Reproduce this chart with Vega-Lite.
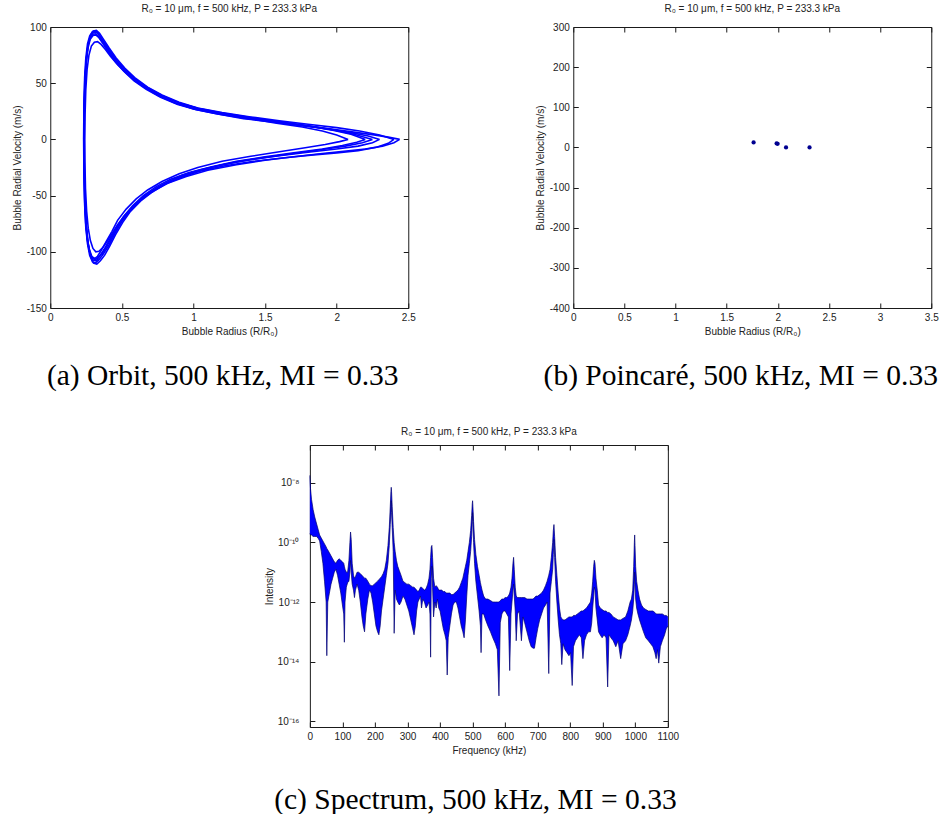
{
  "$schema": "https://vega.github.io/schema/vega-lite/v6.json",
  "background": "white",
  "padding": {"left": 11, "top": 3, "right": 0, "bottom": 0},
  "config": {
    "font": "Liberation Sans",
    "view": {"stroke": "#1a1a1a", "strokeWidth": 1},
    "axis": {"grid": false, "domain": false, "tickSize": -5, "tickColor": "#1a1a1a", "labelFontSize": 10, "labelColor": "#222222", "titleFontSize": 10, "titleFontWeight": "normal", "titleColor": "#222222", "labelPadding": 9, "titlePadding": 4, "labelFont": "Liberation Sans", "titleFont": "Liberation Sans", "labelFlush": false, "labelOverlap": false},
    "title": {"fontSize": 10, "fontWeight": "normal", "font": "Liberation Sans", "color": "#222222"}
  },
  "datasets": {
    "orbit": [
      {"c":1,"r":2.44,"v":0},{"c":1,"r":2.40,"v":-3},{"c":1,"r":2.32,"v":-6},{"c":1,"r":2.20,"v":-8.5},{"c":1,"r":2.05,"v":-10.5},{"c":1,"r":1.90,"v":-12.5},{"c":1,"r":1.70,"v":-15.5},{"c":1,"r":1.50,"v":-18.5},{"c":1,"r":1.30,"v":-22.5},{"c":1,"r":1.10,"v":-27.5},{"c":1,"r":0.95,"v":-33},{"c":1,"r":0.82,"v":-39},{"c":1,"r":0.72,"v":-46},{"c":1,"r":0.63,"v":-54},{"c":1,"r":0.56,"v":-63},{"c":1,"r":0.50,"v":-73},{"c":1,"r":0.45,"v":-84},{"c":1,"r":0.41,"v":-94},{"c":1,"r":0.37,"v":-102},{"c":1,"r":0.34,"v":-107},{"c":1,"r":0.315,"v":-110},{"c":1,"r":0.295,"v":-109},{"c":1,"r":0.275,"v":-103},{"c":1,"r":0.26,"v":-93},{"c":1,"r":0.248,"v":-78},{"c":1,"r":0.24,"v":-58},{"c":1,"r":0.235,"v":-30},{"c":1,"r":0.233,"v":0},{"c":1,"r":0.235,"v":30},{"c":1,"r":0.24,"v":55},{"c":1,"r":0.248,"v":72},{"c":1,"r":0.26,"v":85},{"c":1,"r":0.275,"v":92},{"c":1,"r":0.295,"v":96},{"c":1,"r":0.315,"v":96.5},{"c":1,"r":0.335,"v":94},{"c":1,"r":0.36,"v":89},{"c":1,"r":0.40,"v":81},{"c":1,"r":0.45,"v":72},{"c":1,"r":0.50,"v":64},{"c":1,"r":0.57,"v":55},{"c":1,"r":0.65,"v":47},{"c":1,"r":0.75,"v":39.5},{"c":1,"r":0.87,"v":32.5},{"c":1,"r":1.00,"v":27},{"c":1,"r":1.15,"v":23},{"c":1,"r":1.35,"v":18.5},{"c":1,"r":1.55,"v":15.5},{"c":1,"r":1.75,"v":12.5},{"c":1,"r":1.95,"v":9.5},{"c":1,"r":2.12,"v":6.5},{"c":1,"r":2.26,"v":4},{"c":1,"r":2.36,"v":2},{"c":1,"r":2.44,"v":0},
      {"c":2,"r":2.30,"v":0},{"c":2,"r":2.25,"v":-3},{"c":2,"r":2.15,"v":-6},{"c":2,"r":2.0,"v":-8.5},{"c":2,"r":1.8,"v":-11.5},{"c":2,"r":1.6,"v":-14.5},{"c":2,"r":1.4,"v":-18},{"c":2,"r":1.2,"v":-22.5},{"c":2,"r":1.05,"v":-27},{"c":2,"r":0.92,"v":-32},{"c":2,"r":0.80,"v":-39.5},{"c":2,"r":0.70,"v":-47},{"c":2,"r":0.62,"v":-55},{"c":2,"r":0.55,"v":-64},{"c":2,"r":0.49,"v":-74},{"c":2,"r":0.44,"v":-85},{"c":2,"r":0.40,"v":-94},{"c":2,"r":0.365,"v":-101},{"c":2,"r":0.335,"v":-105},{"c":2,"r":0.31,"v":-107},{"c":2,"r":0.29,"v":-105},{"c":2,"r":0.272,"v":-99},{"c":2,"r":0.258,"v":-89},{"c":2,"r":0.247,"v":-74},{"c":2,"r":0.24,"v":-54},{"c":2,"r":0.236,"v":-28},{"c":2,"r":0.234,"v":0},{"c":2,"r":0.236,"v":28},{"c":2,"r":0.241,"v":52},{"c":2,"r":0.25,"v":70},{"c":2,"r":0.262,"v":83},{"c":2,"r":0.278,"v":90},{"c":2,"r":0.297,"v":93.5},{"c":2,"r":0.317,"v":94},{"c":2,"r":0.338,"v":91.5},{"c":2,"r":0.365,"v":86.5},{"c":2,"r":0.40,"v":79.5},{"c":2,"r":0.45,"v":70.5},{"c":2,"r":0.51,"v":62},{"c":2,"r":0.58,"v":53.5},{"c":2,"r":0.66,"v":46},{"c":2,"r":0.76,"v":38.5},{"c":2,"r":0.88,"v":32},{"c":2,"r":1.0,"v":27.5},{"c":2,"r":1.15,"v":23.5},{"c":2,"r":1.35,"v":19.5},{"c":2,"r":1.55,"v":16},{"c":2,"r":1.75,"v":12.5},{"c":2,"r":1.95,"v":9},{"c":2,"r":2.1,"v":6},{"c":2,"r":2.22,"v":3},{"c":2,"r":2.30,"v":0},
      {"c":3,"r":2.08,"v":0},{"c":3,"r":2.02,"v":-2},{"c":3,"r":1.92,"v":-4.5},{"c":3,"r":1.78,"v":-7.5},{"c":3,"r":1.6,"v":-11},{"c":3,"r":1.4,"v":-15},{"c":3,"r":1.2,"v":-19.5},{"c":3,"r":1.03,"v":-25},{"c":3,"r":0.9,"v":-30.5},{"c":3,"r":0.78,"v":-37.5},{"c":3,"r":0.68,"v":-45},{"c":3,"r":0.6,"v":-53},{"c":3,"r":0.53,"v":-62},{"c":3,"r":0.47,"v":-72},{"c":3,"r":0.43,"v":-82},{"c":3,"r":0.39,"v":-91},{"c":3,"r":0.355,"v":-99},{"c":3,"r":0.33,"v":-104},{"c":3,"r":0.31,"v":-106},{"c":3,"r":0.29,"v":-104},{"c":3,"r":0.273,"v":-98},{"c":3,"r":0.259,"v":-88},{"c":3,"r":0.249,"v":-73},{"c":3,"r":0.241,"v":-53},{"c":3,"r":0.237,"v":-27},{"c":3,"r":0.235,"v":0},{"c":3,"r":0.237,"v":27},{"c":3,"r":0.242,"v":50},{"c":3,"r":0.251,"v":68},{"c":3,"r":0.263,"v":81},{"c":3,"r":0.279,"v":89},{"c":3,"r":0.298,"v":92.5},{"c":3,"r":0.318,"v":93},{"c":3,"r":0.34,"v":90.5},{"c":3,"r":0.367,"v":85.5},{"c":3,"r":0.405,"v":78},{"c":3,"r":0.455,"v":69},{"c":3,"r":0.515,"v":60.5},{"c":3,"r":0.585,"v":52},{"c":3,"r":0.67,"v":44.5},{"c":3,"r":0.77,"v":37.5},{"c":3,"r":0.89,"v":31},{"c":3,"r":1.02,"v":26.5},{"c":3,"r":1.18,"v":22.5},{"c":3,"r":1.38,"v":18.5},{"c":3,"r":1.58,"v":14.5},{"c":3,"r":1.76,"v":11},{"c":3,"r":1.9,"v":7.5},{"c":3,"r":2.0,"v":4},{"c":3,"r":2.08,"v":0},
      {"c":4,"r":2.20,"v":0},{"c":4,"r":2.14,"v":-2.5},{"c":4,"r":2.04,"v":-5.5},{"c":4,"r":1.9,"v":-8.5},{"c":4,"r":1.7,"v":-12},{"c":4,"r":1.5,"v":-15.5},{"c":4,"r":1.3,"v":-19.5},{"c":4,"r":1.12,"v":-24.5},{"c":4,"r":0.97,"v":-29.5},{"c":4,"r":0.84,"v":-35.5},{"c":4,"r":0.74,"v":-42},{"c":4,"r":0.65,"v":-50},{"c":4,"r":0.575,"v":-59},{"c":4,"r":0.51,"v":-69},{"c":4,"r":0.46,"v":-79},{"c":4,"r":0.415,"v":-89},{"c":4,"r":0.375,"v":-98},{"c":4,"r":0.345,"v":-104},{"c":4,"r":0.32,"v":-108},{"c":4,"r":0.298,"v":-107.5},{"c":4,"r":0.279,"v":-102},{"c":4,"r":0.263,"v":-92},{"c":4,"r":0.251,"v":-77},{"c":4,"r":0.243,"v":-57},{"c":4,"r":0.238,"v":-30},{"c":4,"r":0.236,"v":0},{"c":4,"r":0.238,"v":29},{"c":4,"r":0.243,"v":53},{"c":4,"r":0.252,"v":71},{"c":4,"r":0.264,"v":84},{"c":4,"r":0.28,"v":91.5},{"c":4,"r":0.3,"v":95},{"c":4,"r":0.32,"v":95.5},{"c":4,"r":0.342,"v":93},{"c":4,"r":0.37,"v":87.5},{"c":4,"r":0.41,"v":80},{"c":4,"r":0.46,"v":71},{"c":4,"r":0.52,"v":62.5},{"c":4,"r":0.59,"v":54},{"c":4,"r":0.68,"v":46},{"c":4,"r":0.78,"v":39},{"c":4,"r":0.9,"v":32.5},{"c":4,"r":1.03,"v":27.5},{"c":4,"r":1.2,"v":23},{"c":4,"r":1.4,"v":19},{"c":4,"r":1.6,"v":15.5},{"c":4,"r":1.8,"v":12},{"c":4,"r":1.98,"v":8},{"c":4,"r":2.1,"v":4.5},{"c":4,"r":2.2,"v":0},
      {"c":5,"r":2.40,"v":0},{"c":5,"r":2.36,"v":-3.5},{"c":5,"r":2.28,"v":-7},{"c":5,"r":2.15,"v":-10},{"c":5,"r":2.0,"v":-12},{"c":5,"r":1.82,"v":-14},{"c":5,"r":1.62,"v":-16.5},{"c":5,"r":1.42,"v":-19.5},{"c":5,"r":1.22,"v":-23.5},{"c":5,"r":1.05,"v":-28},{"c":5,"r":0.92,"v":-33.5},{"c":5,"r":0.80,"v":-40},{"c":5,"r":0.71,"v":-47},{"c":5,"r":0.63,"v":-55},{"c":5,"r":0.56,"v":-64},{"c":5,"r":0.505,"v":-74},{"c":5,"r":0.455,"v":-85},{"c":5,"r":0.415,"v":-95},{"c":5,"r":0.38,"v":-103},{"c":5,"r":0.35,"v":-108},{"c":5,"r":0.325,"v":-111},{"c":5,"r":0.302,"v":-110},{"c":5,"r":0.282,"v":-104.5},{"c":5,"r":0.266,"v":-94},{"c":5,"r":0.253,"v":-79},{"c":5,"r":0.244,"v":-58},{"c":5,"r":0.239,"v":-30},{"c":5,"r":0.237,"v":0},{"c":5,"r":0.239,"v":30},{"c":5,"r":0.244,"v":54},{"c":5,"r":0.253,"v":72},{"c":5,"r":0.265,"v":85},{"c":5,"r":0.282,"v":93},{"c":5,"r":0.302,"v":96.5},{"c":5,"r":0.322,"v":97},{"c":5,"r":0.344,"v":94.5},{"c":5,"r":0.372,"v":89},{"c":5,"r":0.41,"v":81.5},{"c":5,"r":0.46,"v":72.5},{"c":5,"r":0.52,"v":63.5},{"c":5,"r":0.59,"v":55},{"c":5,"r":0.68,"v":46.5},{"c":5,"r":0.78,"v":39.5},{"c":5,"r":0.9,"v":33},{"c":5,"r":1.03,"v":28},{"c":5,"r":1.2,"v":24},{"c":5,"r":1.4,"v":20},{"c":5,"r":1.6,"v":16.5},{"c":5,"r":1.8,"v":13.5},{"c":5,"r":2.0,"v":10.5},{"c":5,"r":2.16,"v":7.5},{"c":5,"r":2.3,"v":4},{"c":5,"r":2.40,"v":0},
      {"c":6,"r":2.25,"v":0},{"c":6,"r":2.18,"v":-3},{"c":6,"r":2.06,"v":-6},{"c":6,"r":1.9,"v":-9},{"c":6,"r":1.7,"v":-12.5},{"c":6,"r":1.5,"v":-16},{"c":6,"r":1.3,"v":-20},{"c":6,"r":1.12,"v":-25},{"c":6,"r":0.98,"v":-30},{"c":6,"r":0.85,"v":-36},{"c":6,"r":0.75,"v":-42.5},{"c":6,"r":0.66,"v":-50},{"c":6,"r":0.585,"v":-58.5},{"c":6,"r":0.52,"v":-67.5},{"c":6,"r":0.47,"v":-76},{"c":6,"r":0.43,"v":-84},{"c":6,"r":0.395,"v":-91},{"c":6,"r":0.365,"v":-96.5},{"c":6,"r":0.34,"v":-99.5},{"c":6,"r":0.318,"v":-100},{"c":6,"r":0.298,"v":-97},{"c":6,"r":0.28,"v":-90},{"c":6,"r":0.265,"v":-79},{"c":6,"r":0.254,"v":-64},{"c":6,"r":0.246,"v":-44},{"c":6,"r":0.242,"v":-20},{"c":6,"r":0.241,"v":0},{"c":6,"r":0.243,"v":22},{"c":6,"r":0.248,"v":44},{"c":6,"r":0.257,"v":62},{"c":6,"r":0.27,"v":75},{"c":6,"r":0.287,"v":83},{"c":6,"r":0.308,"v":86.5},{"c":6,"r":0.33,"v":87},{"c":6,"r":0.355,"v":84.5},{"c":6,"r":0.385,"v":80},{"c":6,"r":0.42,"v":74},{"c":6,"r":0.47,"v":66.5},{"c":6,"r":0.53,"v":59},{"c":6,"r":0.6,"v":51.5},{"c":6,"r":0.69,"v":44.5},{"c":6,"r":0.79,"v":38},{"c":6,"r":0.91,"v":32},{"c":6,"r":1.04,"v":27.5},{"c":6,"r":1.2,"v":23.5},{"c":6,"r":1.4,"v":19.5},{"c":6,"r":1.6,"v":15.5},{"c":6,"r":1.8,"v":12},{"c":6,"r":1.98,"v":8.5},{"c":6,"r":2.12,"v":4.5},{"c":6,"r":2.25,"v":0}
    ],
    "poinc": [
      {"r":1.763,"v":12.5},{"r":1.988,"v":10},{"r":1.998,"v":9},{"r":2.08,"v":0},{"r":2.31,"v":0}
    ],
    "spec": [
      {"f":0,"hi":1.78e-8,"lo":2.0e-10},{"f":2,"hi":6.31e-9,"lo":1.78e-10},{"f":5,"hi":2.82e-9,"lo":1.78e-10},{"f":10,"hi":1.26e-9,"lo":1.58e-10},{"f":15,"hi":7.08e-10,"lo":1.58e-10},{"f":20,"hi":4.47e-10,"lo":1.58e-10},{"f":25,"hi":2.82e-10,"lo":1.41e-10},{"f":30,"hi":1.78e-10,"lo":1.12e-10},{"f":35,"hi":1.41e-10,"lo":5.01e-11},{"f":40,"hi":1.12e-10,"lo":2.0e-11},{"f":45,"hi":8.91e-11,"lo":5.01e-12},{"f":50,"hi":7.08e-11,"lo":1e-12},{"f":52,"hi":6.31e-11,"lo":1.58e-14},{"f":55,"hi":5.62e-11,"lo":1e-12},{"f":60,"hi":4.47e-11,"lo":2.0e-12},{"f":65,"hi":3.55e-11,"lo":3.98e-12},{"f":70,"hi":2.82e-11,"lo":6.31e-12},{"f":75,"hi":2.24e-11,"lo":1e-11},{"f":80,"hi":2.0e-11,"lo":1.26e-11},{"f":85,"hi":2.51e-11,"lo":7.94e-12},{"f":90,"hi":2.82e-11,"lo":3.98e-12},{"f":95,"hi":2.51e-11,"lo":2.0e-12},{"f":100,"hi":2.24e-11,"lo":7.94e-13},{"f":104,"hi":2.0e-11,"lo":3.98e-13},{"f":106,"hi":1.58e-11,"lo":4.47e-14},{"f":108,"hi":1.26e-11,"lo":1e-12},{"f":112,"hi":1e-11,"lo":3.16e-12},{"f":116,"hi":1e-11,"lo":4.47e-12},{"f":120,"hi":2.51e-11,"lo":5.01e-12},{"f":123,"hi":1e-10,"lo":1e-11},{"f":125,"hi":2.24e-10,"lo":2.51e-11},{"f":127,"hi":1.26e-10,"lo":1e-11},{"f":130,"hi":2.0e-11,"lo":3.98e-12},{"f":134,"hi":7.94e-12,"lo":2.51e-12},{"f":137,"hi":6.31e-12,"lo":1.41e-12},{"f":140,"hi":7.08e-12,"lo":2.51e-12},{"f":145,"hi":1e-11,"lo":3.98e-12},{"f":150,"hi":1e-11,"lo":2.51e-12},{"f":155,"hi":8.91e-12,"lo":1e-12},{"f":160,"hi":7.94e-12,"lo":3.16e-13},{"f":164,"hi":7.08e-12,"lo":1.58e-13},{"f":168,"hi":6.31e-12,"lo":1e-13},{"f":172,"hi":6.31e-12,"lo":3.98e-13},{"f":178,"hi":5.01e-12,"lo":1.26e-12},{"f":183,"hi":3.98e-12,"lo":2.51e-12},{"f":188,"hi":3.55e-12,"lo":2.0e-12},{"f":193,"hi":3.55e-12,"lo":1e-12},{"f":198,"hi":3.98e-12,"lo":3.98e-13},{"f":203,"hi":4.47e-12,"lo":1.58e-13},{"f":208,"hi":5.01e-12,"lo":1e-13},{"f":212,"hi":5.62e-12,"lo":7.94e-14},{"f":216,"hi":6.31e-12,"lo":1.58e-13},{"f":220,"hi":7.08e-12,"lo":5.01e-13},{"f":225,"hi":8.91e-12,"lo":1.26e-12},{"f":230,"hi":1.26e-11,"lo":3.16e-12},{"f":235,"hi":2.51e-11,"lo":7.94e-12},{"f":240,"hi":7.94e-11,"lo":2.0e-11},{"f":244,"hi":3.16e-10,"lo":7.94e-11},{"f":247,"hi":1.58e-9,"lo":3.98e-10},{"f":249,"hi":5.01e-9,"lo":1e-9},{"f":250,"hi":7.08e-9,"lo":2.51e-9},{"f":251,"hi":5.01e-9,"lo":1e-9},{"f":253,"hi":1.58e-9,"lo":3.16e-10},{"f":256,"hi":3.16e-10,"lo":5.01e-11},{"f":259,"hi":1e-10,"lo":8.91e-14},{"f":262,"hi":5.01e-11,"lo":2.51e-12},{"f":266,"hi":2.51e-11,"lo":1.26e-12},{"f":270,"hi":1.58e-11,"lo":1e-12},{"f":275,"hi":1.12e-11,"lo":7.94e-13},{"f":280,"hi":7.94e-12,"lo":1e-12},{"f":286,"hi":5.01e-12,"lo":1.58e-12},{"f":292,"hi":4.47e-12,"lo":1.26e-12},{"f":298,"hi":3.98e-12,"lo":7.94e-13},{"f":304,"hi":3.98e-12,"lo":5.01e-13},{"f":310,"hi":3.55e-12,"lo":2.51e-13},{"f":316,"hi":3.16e-12,"lo":1.26e-13},{"f":320,"hi":3.16e-12,"lo":7.94e-14},{"f":324,"hi":2.82e-12,"lo":1.58e-13},{"f":328,"hi":2.51e-12,"lo":5.01e-13},{"f":332,"hi":2.24e-12,"lo":1e-12},{"f":336,"hi":2.51e-12,"lo":1.26e-12},{"f":340,"hi":3.16e-12,"lo":1.58e-12},{"f":343,"hi":3.16e-12,"lo":6.31e-13},{"f":347,"hi":2.82e-12,"lo":1.26e-12},{"f":352,"hi":2.51e-12,"lo":1e-12},{"f":357,"hi":2.82e-12,"lo":6.31e-13},{"f":362,"hi":3.98e-12,"lo":7.94e-13},{"f":366,"hi":6.31e-12,"lo":1e-12},{"f":369,"hi":1.26e-11,"lo":3.98e-13},{"f":371,"hi":3.16e-11,"lo":1.41e-14},{"f":373,"hi":7.08e-11,"lo":6.31e-12},{"f":375,"hi":7.94e-11,"lo":1.58e-11},{"f":377,"hi":3.16e-11,"lo":3.16e-12},{"f":380,"hi":6.31e-12,"lo":3.16e-13},{"f":384,"hi":3.16e-12,"lo":1e-12},{"f":388,"hi":3.55e-12,"lo":6.31e-13},{"f":392,"hi":3.16e-12,"lo":1.26e-12},{"f":396,"hi":2.51e-12,"lo":6.31e-13},{"f":400,"hi":2.51e-12,"lo":5.01e-13},{"f":405,"hi":2.51e-12,"lo":2.51e-13},{"f":410,"hi":2.24e-12,"lo":1.26e-13},{"f":415,"hi":2.24e-12,"lo":7.94e-14},{"f":419,"hi":2.0e-12,"lo":5.01e-14},{"f":422,"hi":2.0e-12,"lo":3.55e-15},{"f":425,"hi":2.0e-12,"lo":6.31e-14},{"f":430,"hi":2.0e-12,"lo":1.58e-13},{"f":435,"hi":1.78e-12,"lo":3.98e-13},{"f":440,"hi":1.78e-12,"lo":7.94e-13},{"f":445,"hi":2.0e-12,"lo":1e-12},{"f":450,"hi":2.24e-12,"lo":1e-12},{"f":455,"hi":2.51e-12,"lo":6.31e-13},{"f":460,"hi":3.16e-12,"lo":3.16e-13},{"f":465,"hi":4.47e-12,"lo":1.58e-13},{"f":470,"hi":6.31e-12,"lo":1e-13},{"f":474,"hi":1e-11,"lo":6.31e-14},{"f":478,"hi":1.58e-11,"lo":2.51e-13},{"f":482,"hi":2.51e-11,"lo":1.58e-12},{"f":486,"hi":5.01e-11,"lo":7.94e-12},{"f":490,"hi":1e-10,"lo":2.0e-11},{"f":494,"hi":2.51e-10,"lo":5.01e-11},{"f":497,"hi":7.94e-10,"lo":1.58e-10},{"f":499,"hi":2.0e-9,"lo":5.01e-10},{"f":500,"hi":2.51e-9,"lo":1e-9},{"f":501,"hi":1.58e-9,"lo":3.98e-10},{"f":503,"hi":5.01e-10,"lo":1e-10},{"f":506,"hi":1.26e-10,"lo":2.0e-11},{"f":510,"hi":3.98e-11,"lo":5.01e-12},{"f":515,"hi":1.58e-11,"lo":1.58e-12},{"f":520,"hi":7.94e-12,"lo":5.01e-13},{"f":524,"hi":4.47e-12,"lo":1.58e-13},{"f":526,"hi":3.55e-12,"lo":2.0e-14},{"f":529,"hi":2.51e-12,"lo":3.98e-13},{"f":534,"hi":1.58e-12,"lo":3.98e-13},{"f":540,"hi":1.26e-12,"lo":2.51e-13},{"f":547,"hi":1.26e-12,"lo":1.58e-13},{"f":555,"hi":1.12e-12,"lo":1e-13},{"f":562,"hi":1e-12,"lo":6.31e-14},{"f":570,"hi":1e-12,"lo":3.98e-14},{"f":576,"hi":1e-12,"lo":2.51e-14},{"f":581,"hi":1e-12,"lo":7.08e-16},{"f":585,"hi":1.12e-12,"lo":2.0e-13},{"f":590,"hi":1.26e-12,"lo":3.98e-13},{"f":595,"hi":1.26e-12,"lo":5.01e-13},{"f":600,"hi":1.41e-12,"lo":5.01e-13},{"f":605,"hi":1.41e-12,"lo":3.98e-13},{"f":610,"hi":1.58e-12,"lo":3.16e-13},{"f":614,"hi":2.0e-12,"lo":5.01e-15},{"f":618,"hi":3.16e-12,"lo":3.98e-13},{"f":621,"hi":6.31e-12,"lo":1e-12},{"f":624,"hi":2.0e-11,"lo":2.51e-12},{"f":626,"hi":3.16e-11,"lo":3.98e-12},{"f":628,"hi":1.26e-11,"lo":1.58e-12},{"f":631,"hi":3.16e-12,"lo":5.01e-13},{"f":634,"hi":1.58e-12,"lo":5.01e-14},{"f":638,"hi":1.41e-12,"lo":3.98e-13},{"f":643,"hi":1.41e-12,"lo":5.01e-13},{"f":650,"hi":1.41e-12,"lo":5.01e-14},{"f":655,"hi":1.41e-12,"lo":3.16e-13},{"f":660,"hi":1.41e-12,"lo":2.0e-13},{"f":667,"hi":1.26e-12,"lo":1e-13},{"f":674,"hi":1.26e-12,"lo":5.01e-14},{"f":680,"hi":1.26e-12,"lo":3.16e-14},{"f":686,"hi":1.26e-12,"lo":2.82e-14},{"f":690,"hi":1.41e-12,"lo":2.82e-14},{"f":695,"hi":1.58e-12,"lo":6.31e-14},{"f":700,"hi":1.58e-12,"lo":1.26e-13},{"f":706,"hi":1.78e-12,"lo":2.51e-13},{"f":712,"hi":2.0e-12,"lo":3.98e-13},{"f":718,"hi":2.51e-12,"lo":6.31e-13},{"f":724,"hi":3.55e-12,"lo":7.94e-13},{"f":729,"hi":5.01e-12,"lo":1e-12},{"f":734,"hi":7.94e-12,"lo":3.98e-15},{"f":738,"hi":1.26e-11,"lo":2.0e-12},{"f":742,"hi":3.16e-11,"lo":5.01e-12},{"f":746,"hi":1e-10,"lo":1.26e-11},{"f":748,"hi":2.51e-10,"lo":3.98e-11},{"f":750,"hi":3.98e-10,"lo":1.26e-10},{"f":752,"hi":1.58e-10,"lo":3.16e-11},{"f":755,"hi":3.16e-11,"lo":5.01e-12},{"f":759,"hi":7.94e-12,"lo":1e-12},{"f":763,"hi":2.0e-12,"lo":2.51e-13},{"f":767,"hi":6.31e-13,"lo":7.94e-14},{"f":771,"hi":3.16e-13,"lo":3.98e-14},{"f":774,"hi":2.82e-13,"lo":7.94e-15},{"f":778,"hi":2.51e-13,"lo":3.98e-14},{"f":784,"hi":2.51e-13,"lo":2.51e-14},{"f":790,"hi":2.82e-13,"lo":2.0e-14},{"f":796,"hi":3.16e-13,"lo":1.58e-14},{"f":801,"hi":3.16e-13,"lo":2.0e-14},{"f":806,"hi":3.16e-13,"lo":1.58e-15},{"f":810,"hi":3.55e-13,"lo":3.16e-14},{"f":816,"hi":3.55e-13,"lo":5.01e-14},{"f":822,"hi":3.98e-13,"lo":6.31e-14},{"f":828,"hi":4.47e-13,"lo":7.94e-14},{"f":834,"hi":5.01e-13,"lo":6.31e-14},{"f":839,"hi":5.01e-13,"lo":1.26e-14},{"f":844,"hi":5.62e-13,"lo":5.01e-14},{"f":850,"hi":6.31e-13,"lo":7.94e-14},{"f":856,"hi":7.94e-13,"lo":1e-13},{"f":862,"hi":1e-12,"lo":1e-13},{"f":866,"hi":2.0e-12,"lo":2.0e-13},{"f":869,"hi":5.01e-12,"lo":6.31e-13},{"f":872,"hi":1.58e-11,"lo":1.58e-12},{"f":874,"hi":2.51e-11,"lo":3.16e-12},{"f":876,"hi":2.0e-11,"lo":2.51e-12},{"f":879,"hi":6.31e-12,"lo":6.31e-13},{"f":883,"hi":2.51e-12,"lo":2.51e-13},{"f":887,"hi":7.94e-13,"lo":1e-13},{"f":892,"hi":6.31e-13,"lo":7.94e-14},{"f":898,"hi":5.62e-13,"lo":6.31e-14},{"f":904,"hi":5.01e-13,"lo":7.94e-14},{"f":910,"hi":5.01e-13,"lo":6.31e-14},{"f":915,"hi":4.47e-13,"lo":1.41e-15},{"f":919,"hi":4.47e-13,"lo":7.94e-14},{"f":925,"hi":3.98e-13,"lo":6.31e-14},{"f":932,"hi":3.16e-13,"lo":5.01e-14},{"f":940,"hi":2.82e-13,"lo":3.16e-14},{"f":947,"hi":2.51e-13,"lo":5.01e-14},{"f":955,"hi":2.51e-13,"lo":1.26e-14},{"f":962,"hi":2.82e-13,"lo":3.98e-14},{"f":970,"hi":3.16e-13,"lo":5.01e-14},{"f":977,"hi":5.01e-13,"lo":7.94e-14},{"f":984,"hi":1e-12,"lo":1.58e-13},{"f":988,"hi":1.26e-12,"lo":2.51e-13},{"f":992,"hi":2.51e-12,"lo":5.01e-13},{"f":995,"hi":1.58e-11,"lo":1.26e-12},{"f":997,"hi":1e-10,"lo":3.98e-12},{"f":998,"hi":1.78e-10,"lo":1e-11},{"f":999,"hi":7.94e-11,"lo":3.98e-12},{"f":1001,"hi":1.58e-11,"lo":1.26e-12},{"f":1004,"hi":5.01e-12,"lo":6.31e-13},{"f":1008,"hi":2.51e-12,"lo":3.98e-13},{"f":1013,"hi":1.26e-12,"lo":2.51e-13},{"f":1019,"hi":7.94e-13,"lo":1.58e-13},{"f":1025,"hi":6.31e-13,"lo":1e-13},{"f":1032,"hi":5.62e-13,"lo":6.31e-14},{"f":1040,"hi":5.01e-13,"lo":5.01e-14},{"f":1047,"hi":5.01e-13,"lo":3.98e-14},{"f":1054,"hi":5.01e-13,"lo":3.16e-14},{"f":1060,"hi":4.47e-13,"lo":2.0e-14},{"f":1064,"hi":3.98e-13,"lo":1.26e-14},{"f":1068,"hi":3.98e-13,"lo":2.51e-14},{"f":1072,"hi":3.98e-13,"lo":8.91e-15},{"f":1077,"hi":3.98e-13,"lo":3.16e-14},{"f":1083,"hi":3.98e-13,"lo":5.01e-14},{"f":1090,"hi":3.55e-13,"lo":7.94e-14},{"f":1095,"hi":3.55e-13,"lo":1.26e-13},{"f":1100,"hi":3.16e-13,"lo":1.58e-13}
    ]
  },
  "vconcat": [
    {
      "hconcat": [
        {
          "title": {"text": "(a) Orbit, 500 kHz, MI = 0.33", "orient": "bottom", "anchor": "middle", "font": "Liberation Serif", "fontSize": 29.5, "color": "#000000", "offset": 25, "dx": 9},
          "vconcat": [
            {
              "width": 358, "height": 281,
              "title": {"text": "R₀ = 10 μm, f = 500 kHz, P = 233.3 kPa", "offset": 8, "anchor": "middle", "frame": "group"},
              "data": {"name": "orbit"},
              "layer": [
                {
                  "mark": {"type": "line", "color": "#0000ff", "strokeWidth": 1.6},
                  "encoding": {
                    "x": {"field": "r", "type": "quantitative", "scale": {"domain": [0, 2.5], "nice": false, "zero": false}, "axis": {"values": [0, 0.5, 1, 1.5, 2, 2.5], "labelExpr": "'' + datum.value", "title": "Bubble Radius (R/R₀)"}},
                    "y": {"field": "v", "type": "quantitative", "scale": {"domain": [-150, 100], "nice": false, "zero": false}, "axis": {"values": [-150, -100, -50, 0, 50, 100], "labelExpr": "'' + datum.value", "title": "Bubble Radial Velocity (m/s)"}},
                    "detail": {"field": "c", "type": "nominal"},
                    "order": {"value": null}
                  }
                },
                {
                  "mark": {"type": "point", "opacity": 0},
                  "encoding": {
                    "x": {"field": "r", "type": "quantitative", "axis": {"orient": "top", "labels": false, "title": null, "values": [0, 0.5, 1, 1.5, 2, 2.5]}},
                    "y": {"field": "v", "type": "quantitative", "axis": {"orient": "right", "labels": false, "title": null, "values": [-150, -100, -50, 0, 50, 100]}}
                  }
                }
              ],
              "resolve": {"axis": {"x": "independent", "y": "independent"}}
            }
          ]
        },
        {
          "title": {"text": "(b) Poincaré, 500 kHz, MI = 0.33", "orient": "bottom", "anchor": "middle", "font": "Liberation Serif", "fontSize": 29.5, "color": "#000000", "offset": 25, "dx": 4},
          "vconcat": [
            {
              "width": 358, "height": 281,
              "title": {"text": "R₀ = 10 μm, f = 500 kHz, P = 233.3 kPa", "offset": 8, "anchor": "middle", "frame": "group"},
              "data": {"name": "poinc"},
              "layer": [
                {
                  "mark": {"type": "point", "filled": true, "color": "#000090", "size": 18, "opacity": 1},
                  "encoding": {
                    "x": {"field": "r", "type": "quantitative", "scale": {"domain": [0, 3.5], "nice": false, "zero": false}, "axis": {"values": [0, 0.5, 1, 1.5, 2, 2.5, 3, 3.5], "labelExpr": "'' + datum.value", "title": "Bubble Radius (R/R₀)"}},
                    "y": {"field": "v", "type": "quantitative", "scale": {"domain": [-400, 300], "nice": false, "zero": false}, "axis": {"values": [-400, -300, -200, -100, 0, 100, 200, 300], "labelExpr": "'' + datum.value", "title": "Bubble Radial Velocity (m/s)"}}
                  }
                },
                {
                  "mark": {"type": "point", "opacity": 0},
                  "encoding": {
                    "x": {"field": "r", "type": "quantitative", "axis": {"orient": "top", "labels": false, "title": null, "values": [0, 0.5, 1, 1.5, 2, 2.5, 3, 3.5]}},
                    "y": {"field": "v", "type": "quantitative", "axis": {"orient": "right", "labels": false, "title": null, "values": [-400, -300, -200, -100, 0, 100, 200, 300]}}
                  }
                }
              ],
              "resolve": {"axis": {"x": "independent", "y": "independent"}}
            }
          ]
        }
      ],
      "spacing": 118
    },
    {
      "title": {"text": "(c) Spectrum, 500 kHz, MI = 0.33", "orient": "bottom", "anchor": "middle", "font": "Liberation Serif", "fontSize": 29.5, "color": "#000000", "offset": 30, "dx": 4},
      "vconcat": [
        {
          "width": 358, "height": 282,
          "title": {"text": "R₀ = 10 μm, f = 500 kHz, P = 233.3 kPa", "offset": 8, "anchor": "middle", "frame": "group"},
          "data": {"name": "spec"},
          "layer": [
            {
              "mark": {"type": "area", "color": "#0000ff", "opacity": 1},
              "encoding": {
                "x": {"field": "f", "type": "quantitative", "scale": {"domain": [0, 1100], "nice": false, "zero": false}, "axis": {"values": [0, 100, 200, 300, 400, 500, 600, 700, 800, 900, 1000, 1100], "labelExpr": "'' + datum.value", "title": "Frequency (kHz)"}},
                "y": {"field": "hi", "type": "quantitative", "scale": {"type": "log", "domain": [6.4e-17, 1.86e-7], "nice": false}, "axis": {"values": [1e-16, 1e-14, 1e-12, 1e-10, 1e-8], "labelExpr": "'10' + replace(replace(replace(replace(replace(replace(replace('' + round(log(datum.value) / LN10), '-', '⁻'), '1', '¹'), '0', '⁰'), '2', '²'), '4', '⁴'), '6', '⁶'), '8', '⁸')", "title": "Intensity", "labelPadding": 16, "titlePadding": 3}},
                "y2": {"field": "lo"}
              }
            },
            {
              "mark": {"type": "line", "color": "#00006e", "strokeWidth": 0.7},
              "encoding": {
                "x": {"field": "f", "type": "quantitative", "axis": null},
                "y": {"field": "hi", "type": "quantitative", "axis": null}
              }
            },
            {
              "mark": {"type": "line", "color": "#00006e", "strokeWidth": 0.7},
              "encoding": {
                "x": {"field": "f", "type": "quantitative", "axis": null},
                "y": {"field": "lo", "type": "quantitative", "axis": null}
              }
            },
            {
              "mark": {"type": "point", "opacity": 0},
              "encoding": {
                "x": {"field": "f", "type": "quantitative", "axis": {"orient": "top", "labels": false, "title": null, "values": [0, 100, 200, 300, 400, 500, 600, 700, 800, 900, 1000, 1100]}},
                "y": {"field": "hi", "type": "quantitative", "axis": {"orient": "right", "labels": false, "title": null, "values": [1e-16, 1e-14, 1e-12, 1e-10, 1e-8]}}
              }
            }
          ],
          "resolve": {"axis": {"x": "independent", "y": "independent"}}
        }
      ]
    }
  ],
  "spacing": 36,
  "center": true
}
